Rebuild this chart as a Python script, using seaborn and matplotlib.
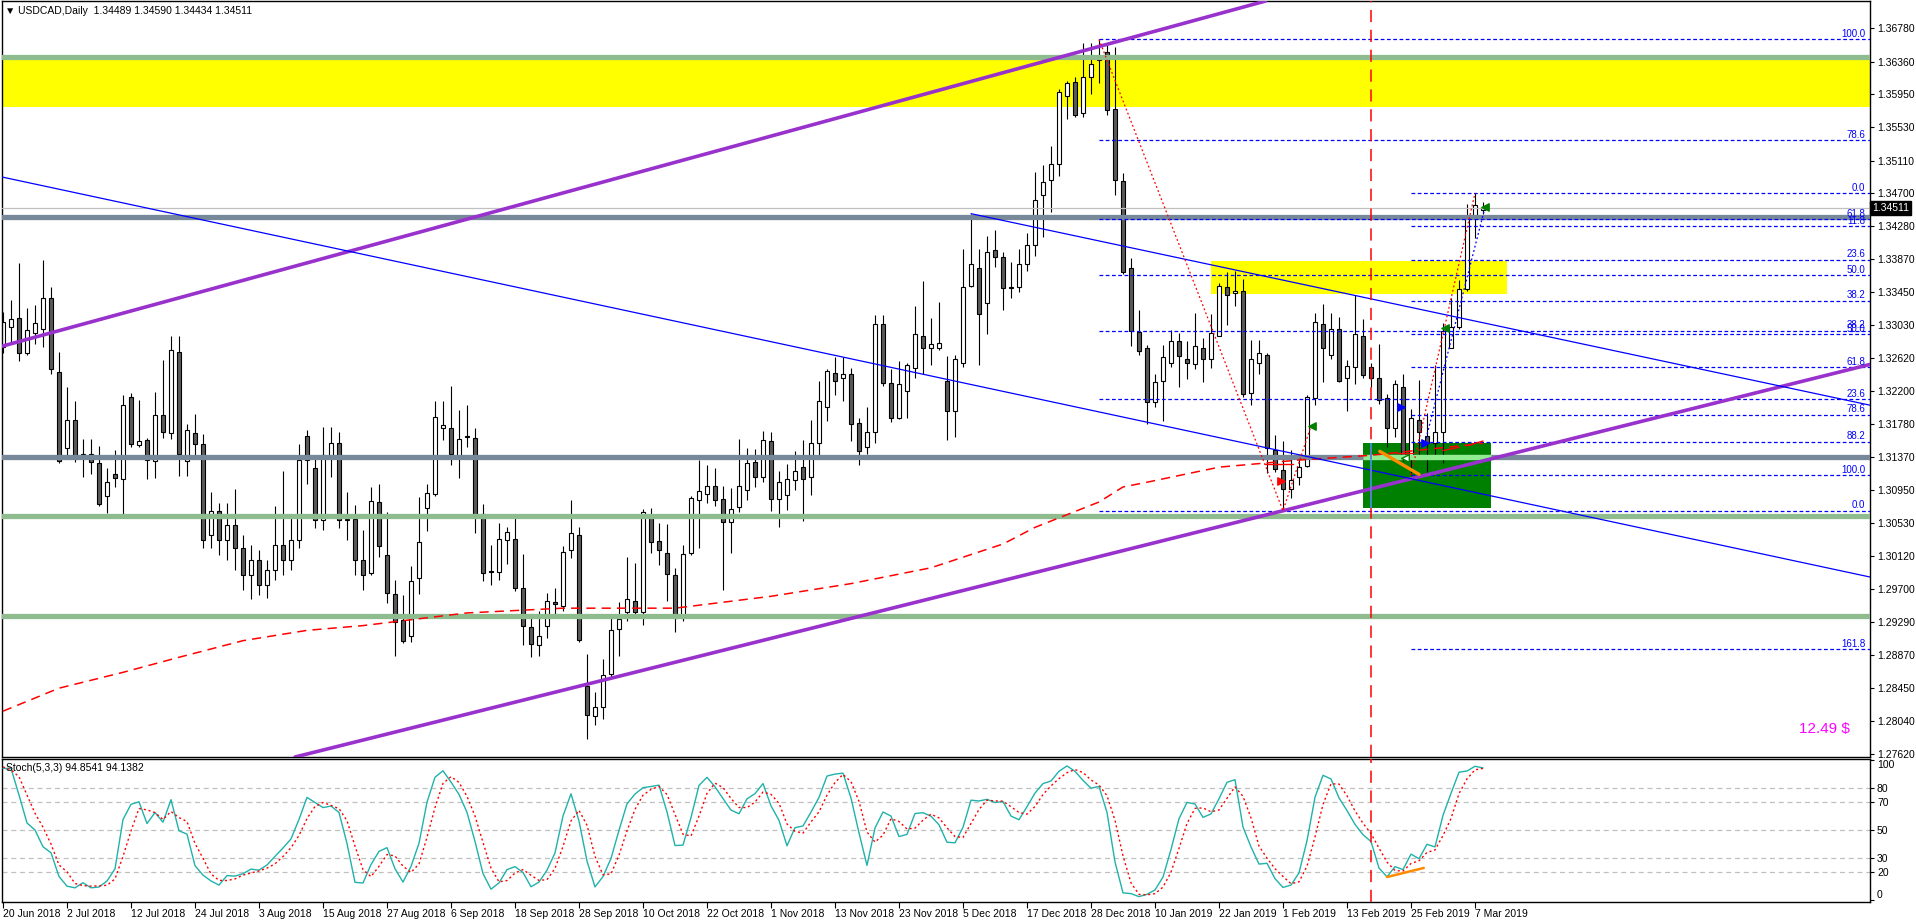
import numpy as np
import pandas as pd
import seaborn as sns
import matplotlib.pyplot as plt
import matplotlib.transforms as mtransforms
from matplotlib.patches import Rectangle

# ------------------- Daily USDCAD candles, 20 Jun 2018 .. 8 Mar 2019 -------------------
opens = [1.3276, 1.3301, 1.3312, 1.3268, 1.3293, 1.3299, 1.3338, 1.3244, 1.3148, 1.3184,
         1.3138, 1.3140, 1.3129, 1.3087, 1.3116, 1.3109, 1.3212, 1.3152, 1.3158, 1.3132,
         1.3190, 1.3167, 1.3269, 1.3132, 1.3167, 1.3153, 1.3038, 1.3069, 1.3032, 1.3051,
         1.3022, 1.2988, 1.3007, 1.2975, 1.2994, 1.3026, 1.3007, 1.3032, 1.3163, 1.3123,
         1.3057, 1.3138, 1.3154, 1.3057, 1.3059, 1.3007, 1.2991, 1.3080, 1.3013, 1.2964,
         1.2931, 1.2911, 1.2984, 1.3072, 1.3090, 1.3173, 1.3174, 1.3138, 1.3163, 1.3161,
         1.3065, 1.2993, 1.2992, 1.3032, 1.3033, 1.2971, 1.2922, 1.2899, 1.2924, 1.2954,
         1.2949, 1.3019, 1.3039, 1.2848, 1.2810, 1.2821, 1.2863, 1.2920, 1.2941, 1.2955,
         1.2941, 1.3064, 1.3031, 1.3016, 1.2988, 1.2933, 1.3016, 1.3083, 1.3090, 1.3100,
         1.3084, 1.3055, 1.3074, 1.3095, 1.3130, 1.3112, 1.3157, 1.3084, 1.3089, 1.3108,
         1.3124, 1.3111, 1.3154, 1.3200, 1.3243, 1.3236, 1.3241, 1.3180, 1.3150, 1.3169,
         1.3305, 1.3230, 1.3186, 1.3220, 1.3249, 1.3290, 1.3275, 1.3275, 1.3233, 1.3195,
         1.3256, 1.3353, 1.3376, 1.3331, 1.3398, 1.3389, 1.3351, 1.3351, 1.3380, 1.3404,
         1.3467, 1.3486, 1.3507, 1.3592, 1.3610, 1.3571, 1.3616, 1.3638, 1.3648, 1.3576,
         1.3485, 1.3376, 1.3295, 1.3275, 1.3206, 1.3233, 1.3256, 1.3283, 1.3260, 1.3254,
         1.3275, 1.3260, 1.3290, 1.3352, 1.3344, 1.3346, 1.3217, 1.3256, 1.3266, 1.3146,
         1.3121, 1.3097, 1.3111, 1.3126, 1.3211, 1.3305, 1.3266, 1.3299, 1.3236, 1.3250,
         1.3290, 1.3250, 1.3236, 1.3211, 1.3174, 1.3225, 1.3134, 1.3184, 1.3163, 1.3155,
         1.3168, 1.3275, 1.3301, 1.3349, 1.3441, 1.34489]
highs = [1.3320, 1.3335, 1.3382, 1.3325, 1.3329, 1.3386, 1.3351, 1.3269, 1.3225, 1.3208,
         1.3160, 1.3160, 1.3151, 1.3123, 1.3146, 1.3215, 1.3218, 1.3209, 1.3161, 1.3219,
         1.3259, 1.3290, 1.3290, 1.3178, 1.3191, 1.3166, 1.3093, 1.3079, 1.3079, 1.3097,
         1.3038, 1.3026, 1.3019, 1.3007, 1.3075, 1.3119, 1.3064, 1.3153, 1.3171, 1.3136,
         1.3175, 1.3175, 1.3168, 1.3093, 1.3076, 1.3045, 1.3099, 1.3103, 1.3067, 1.2982,
         1.2963, 1.2999, 1.3086, 1.3103, 1.3208, 1.3207, 1.3227, 1.3196, 1.3203, 1.3174,
         1.3078, 1.3026, 1.3054, 1.3048, 1.3064, 1.3015, 1.2936, 1.2942, 1.2965, 1.2972,
         1.3025, 1.3082, 1.3048, 1.2888, 1.2840, 1.2882, 1.2936, 1.2954, 1.3010, 1.3003,
         1.3071, 1.3072, 1.3053, 1.3052, 1.2997, 1.3026, 1.3088, 1.3133, 1.3127, 1.3123,
         1.3100, 1.3098, 1.3159, 1.3148, 1.3147, 1.3170, 1.3169, 1.3119, 1.3128, 1.3145,
         1.3158, 1.3184, 1.3233, 1.3248, 1.3263, 1.3263, 1.3249, 1.3186, 1.3200, 1.3316,
         1.3316, 1.3248, 1.3258, 1.3255, 1.3327, 1.3359, 1.3312, 1.3332, 1.3264, 1.3265,
         1.3399, 1.3444, 1.3400, 1.3416, 1.3423, 1.3396, 1.3383, 1.3400, 1.3420, 1.3496,
         1.3506, 1.3529, 1.3601, 1.3611, 1.3617, 1.3660, 1.3660, 1.3664, 1.3659, 1.3654,
         1.3495, 1.3388, 1.3322, 1.3278, 1.3242, 1.3278, 1.3297, 1.3293, 1.3283, 1.3318,
         1.3287, 1.3317, 1.3356, 1.3370, 1.3372, 1.3361, 1.3285, 1.3284, 1.3268, 1.3164,
         1.3157, 1.3146, 1.3139, 1.3215, 1.3318, 1.3330, 1.3318, 1.3313, 1.3259, 1.3341,
         1.3311, 1.3256, 1.3280, 1.3216, 1.3234, 1.3241, 1.3197, 1.3234, 1.3192, 1.3253,
         1.3306, 1.3337, 1.3360, 1.3456, 1.3470, 1.34590]
lows = [1.3268, 1.3282, 1.3258, 1.3265, 1.3280, 1.3276, 1.3241, 1.3129, 1.3139, 1.3131,
        1.3111, 1.3115, 1.3075, 1.3066, 1.3099, 1.3063, 1.3149, 1.3149, 1.3109, 1.3110,
        1.3161, 1.3159, 1.3113, 1.3113, 1.3135, 1.3022, 1.3022, 1.3013, 1.3007, 1.2994,
        1.2969, 1.2957, 1.2963, 1.2959, 1.2982, 1.2988, 1.2994, 1.3022, 1.3103, 1.3047,
        1.3045, 1.3112, 1.3047, 1.3032, 1.2988, 1.2969, 1.2988, 1.3010, 1.2952, 1.2886,
        1.2902, 1.2903, 1.2964, 1.3043, 1.3088, 1.3158, 1.3127, 1.3110, 1.3150, 1.3041,
        1.2980, 1.2975, 1.2981, 1.3002, 1.2968, 1.2900, 1.2884, 1.2886, 1.2908, 1.2935,
        1.2943, 1.3009, 1.2903, 1.2781, 1.2799, 1.2806, 1.2859, 1.2886, 1.2930, 1.2935,
        1.2925, 1.3016, 1.3001, 1.2955, 1.2916, 1.2930, 1.3013, 1.3022, 1.3079, 1.3075,
        1.2969, 1.3016, 1.3068, 1.3083, 1.3099, 1.3105, 1.3069, 1.3048, 1.3070, 1.3095,
        1.3056, 1.3089, 1.3139, 1.3182, 1.3215, 1.3208, 1.3157, 1.3127, 1.3140, 1.3154,
        1.3227, 1.3181, 1.3185, 1.3186, 1.3236, 1.3242, 1.3253, 1.3272, 1.3158, 1.3162,
        1.3251, 1.3352, 1.3253, 1.3292, 1.3377, 1.3322, 1.3337, 1.3345, 1.3371, 1.3390,
        1.3414, 1.3446, 1.3492, 1.3564, 1.3566, 1.3566, 1.3595, 1.3609, 1.3568, 1.3468,
        1.3368, 1.3277, 1.3266, 1.3179, 1.3200, 1.3182, 1.3251, 1.3225, 1.3235, 1.3248,
        1.3231, 1.3249, 1.3289, 1.3304, 1.3328, 1.3213, 1.3202, 1.3241, 1.3117, 1.3118,
        1.3069, 1.3085, 1.3101, 1.3124, 1.3202, 1.3231, 1.3261, 1.3231, 1.3195, 1.3229,
        1.3236, 1.3225, 1.3204, 1.3149, 1.3162, 1.3132, 1.3114, 1.3134, 1.3118, 1.3138,
        1.3129, 1.3274, 1.3299, 1.3347, 1.3413, 1.34434]
closes = [1.3307, 1.3311, 1.3268, 1.3297, 1.3306, 1.3337, 1.3248, 1.3132, 1.3184, 1.3138,
          1.3140, 1.3130, 1.3078, 1.3105, 1.3110, 1.3203, 1.3153, 1.3157, 1.3133, 1.3190,
          1.3168, 1.3272, 1.3140, 1.3171, 1.3153, 1.3032, 1.3069, 1.3032, 1.3051, 1.3022,
          1.2988, 1.3007, 1.2975, 1.2994, 1.3026, 1.3007, 1.3032, 1.3133, 1.3133, 1.3057,
          1.3139, 1.3155, 1.3057, 1.3059, 1.3007, 1.2988, 1.3081, 1.3025, 1.2965, 1.2929,
          1.2905, 1.2980, 1.3030, 1.3091, 1.3187, 1.3177, 1.3141, 1.3159, 1.3162, 1.3064,
          1.2991, 1.2992, 1.3033, 1.3042, 1.2971, 1.2923, 1.2901, 1.2911, 1.2955, 1.2951,
          1.3017, 1.3041, 1.2906, 1.2811, 1.2821, 1.2862, 1.2918, 1.2932, 1.2958, 1.2941,
          1.3068, 1.3030, 1.3019, 1.2989, 1.2933, 1.3015, 1.3085, 1.3094, 1.3100, 1.3083,
          1.3055, 1.3071, 1.3100, 1.3129, 1.3111, 1.3158, 1.3084, 1.3105, 1.3109, 1.3119,
          1.3109, 1.3154, 1.3207, 1.3246, 1.3233, 1.3241, 1.3178, 1.3144, 1.3169, 1.3305,
          1.3230, 1.3186, 1.3229, 1.3253, 1.3292, 1.3274, 1.3279, 1.3281, 1.3195, 1.3261,
          1.3352, 1.3380, 1.3317, 1.3395, 1.3389, 1.3350, 1.3350, 1.3380, 1.3405, 1.3461,
          1.3484, 1.3507, 1.3598, 1.3609, 1.3569, 1.3617, 1.3633, 1.3643, 1.3575, 1.3487,
          1.3370, 1.3296, 1.3271, 1.3206, 1.3232, 1.3263, 1.3283, 1.3264, 1.3255, 1.3277,
          1.3260, 1.3293, 1.3353, 1.3341, 1.3347, 1.3216, 1.3261, 1.3268, 1.3148, 1.3122,
          1.3097, 1.3108, 1.3124, 1.3212, 1.3307, 1.3274, 1.3299, 1.3233, 1.3252, 1.3292,
          1.3240, 1.3236, 1.3209, 1.3174, 1.3229, 1.3136, 1.3186, 1.3168, 1.3155, 1.3168,
          1.3296, 1.3301, 1.3349, 1.3441, 1.3455, 1.34511]

date_labels = ['20 Jun 2018', '2 Jul 2018', '12 Jul 2018', '24 Jul 2018', '3 Aug 2018',
               '15 Aug 2018', '27 Aug 2018', '6 Sep 2018', '18 Sep 2018', '28 Sep 2018',
               '10 Oct 2018', '22 Oct 2018', '1 Nov 2018', '13 Nov 2018', '23 Nov 2018',
               '5 Dec 2018', '17 Dec 2018', '28 Dec 2018', '10 Jan 2019', '22 Jan 2019',
               '1 Feb 2019', '13 Feb 2019', '25 Feb 2019', '7 Mar 2019']
price_ticks = [1.36780, 1.36360, 1.35950, 1.35530, 1.35110, 1.34700, 1.34280, 1.33870,
               1.33450, 1.33030, 1.32620, 1.32200, 1.31780, 1.31370, 1.30950, 1.30530,
               1.30120, 1.29700, 1.29290, 1.28870, 1.28450, 1.28040, 1.27620]
stoch_ticks = [100, 80, 70, 50, 30, 20, 0]
stoch_levels = [80, 70, 50, 30, 20]

# moving average (bar index, value)
ma_idx = [0, 7, 15, 22, 30, 38, 45, 58, 70, 84, 92, 96, 106, 116, 125, 129, 137, 140,
          143, 152, 162, 171, 185]
ma_val = [1.2816, 1.2845, 1.2865, 1.2884, 1.2905, 1.2918, 1.2924, 1.2940, 1.2946, 1.2946,
          1.2956, 1.2961, 1.2977, 1.2997, 1.3027, 1.3048, 1.3080, 1.3099, 1.3105, 1.3124,
          1.3133, 1.3139, 1.3154]

# stochastic values for the first bars (before the 5,3,3 window fills)
stoch_k_head = [94, 94, 75, 55, 50, 38]
stoch_d_head = [95, 93, 88, 75, 62, 52, 40, 25]

# ------------------- Drawn objects -------------------
green_levels = [1.36414, 1.30620, 1.29361]
gray_levels = [1.34398, 1.31365]
current_price = 1.34511
yellow_zones = [(-1, 240, 1.35786, 1.36380), (151, 188, 1.33426, 1.33842)]
green_zone = (170, 186, 1.30725, 1.31545)
purple_up = [(0, 1.3277), (137, 1.3655)]
purple_low = [(73, 1.2850), (160, 1.3069)]
blue_long = [(0, 1.3490), (160, 1.3144)]
blue_ray = [(121, 1.3444), (187, 1.3302)]
red_zigzag = [(137, 1.3664), (160, 1.3069), (163.5, 1.3176)]
red_swing = [(176, 1.3114), (184, 1.3470)]
blue_swing = [(177.75, 1.3155), (185.25, 1.3452)]
orange_main = [(172.1, 1.3144), (177, 1.3115)]
orange_stoch = [(173, 16.4), (177.6, 22.9)]
red_marks = [((157.75, 1.3128), (161.25, 1.3128)), ((174.2, 1.3142), (176.25, 1.3142)),
             ((180, 1.3145), (182, 1.3149)), ((183, 1.3151), (185, 1.3157))]
green_arrows = [(163.6, 1.3176), (180.25, 1.3300), (185.3, 1.3453)]
blue_arrows = [(174.75, 1.3200), (177.75, 1.3155)]
event_bar = 171
fib1_levels = [0.0, 23.6, 38.2, 50.0, 61.8, 78.6, 100.0]
fib2_levels = [0.0, 11.8, 23.6, 38.2, 50.0, 61.8, 78.6, 88.2, 100.0, 161.8]

# ------------------- Setup -------------------
sns.set_theme(style='white', rc={'axes.edgecolor': 'black', 'xtick.color': 'black',
                                 'ytick.color': 'black', 'text.color': 'black'})
plt.rcParams['font.family'] = ['Liberation Sans Narrow', 'Liberation Sans', 'DejaVu Sans']

o = np.array(opens); h = np.array(highs); l = np.array(lows); c = np.array(closes)
idx = np.arange(len(c))
df = pd.DataFrame({'idx': idx, 'open': o, 'high': h, 'low': l, 'close': c})

# Stochastic (5,3,3)
ll = df['low'].rolling(5).min()
hh = df['high'].rolling(5).max()
k = 100 * (df['close'] - ll).rolling(3).sum() / (hh - ll).rolling(3).sum()
d = k.rolling(3).mean()
k.iloc[:len(stoch_k_head)] = stoch_k_head
d.iloc[:len(stoch_d_head)] = stoch_d_head
df['K'] = k
df['D'] = d

W, H = 1916, 922
fig = plt.figure(figsize=(W / 100, H / 100), dpi=100)
ax = fig.add_axes([2 / W, 1 - 757 / H, 1868 / W, 756 / H])
ax2 = fig.add_axes([2 / W, 1 - 902 / H, 1868 / W, 143 / H], sharex=ax)
x_end = 233.375

# ------------------- Main panel -------------------
for x0, x1, y0, y1 in yellow_zones:
    ax.add_patch(Rectangle((x0, y0), x1 - x0, y1 - y0, color='yellow', lw=0, zorder=1))
gx0, gx1, gy0, gy1 = green_zone
ax.add_patch(Rectangle((gx0, gy0), gx1 - gx0, gy1 - gy0, color='green', lw=0, zorder=1))

bull = c >= o
ax.vlines(idx, l, h, color='black', lw=0.8, zorder=2)
ax.bar(idx, np.maximum(np.abs(c - o), 0.00005), bottom=np.minimum(o, c), width=0.55,
       color=np.where(bull, 'white', '#5a5a5a'), edgecolor='black', linewidth=0.8, zorder=2.5)

ax.axhline(current_price, color='#c0c0c0', lw=0.9, zorder=2.6)
for lv in green_levels:
    ax.axhline(lv, color='#8fbc8f', lw=3.8, zorder=3)
for lv in gray_levels:
    ax.axhline(lv, color='#778899', lw=3.8, zorder=3)
ax.hlines(gray_levels[1], gx0, gx1, color='#90ee90', lw=3.8, zorder=3.1)

ax.axline(*purple_up, color='#9932cc', lw=2.6, zorder=4)
ax.axline(*purple_low, color='#9932cc', lw=2.6, zorder=4)
ax.axline(*blue_long, color='blue', lw=0.9, zorder=4)
(bx0, by0), (bx1, by1) = blue_ray
ax.plot([bx0, x_end], [by0, by0 + (by1 - by0) / (bx1 - bx0) * (x_end - bx0)],
        color='blue', lw=0.9, zorder=4)

sns.lineplot(x=ma_idx, y=ma_val, ax=ax, color='red', lw=1.1, linestyle=(0, (6, 4)), zorder=3.5)

# fibonacci retracements
f1_hi, f1_lo = h[137], l[160]
for lv in fib1_levels:
    p = f1_lo + (f1_hi - f1_lo) * lv / 100
    ax.hlines(p, 137, x_end, color='blue', lw=0.9, linestyles=(0, (3, 2)), zorder=3.4)
    ax.text(232.8, p + 0.00005, f'{lv:.1f}', color='blue', fontsize=7, ha='right', va='bottom', zorder=6)
f2_hi, f2_lo = h[184], l[176]
for lv in fib2_levels:
    p = f2_hi - (f2_hi - f2_lo) * lv / 100
    ax.hlines(p, 176, x_end, color='blue', lw=0.9, linestyles=(0, (3, 2)), zorder=3.4)
    ax.text(232.8, p + 0.00005, f'{lv:.1f}', color='blue', fontsize=7, ha='right', va='bottom', zorder=6)

zx, zy = zip(*red_zigzag)
ax.plot(zx, zy, color='red', lw=0.9, ls=(0, (1.5, 2)), zorder=4.5)
sx, sy = zip(*red_swing)
ax.plot(sx, sy, color='red', lw=0.9, ls=(0, (1.5, 2)), zorder=4.5)
bx, by = zip(*blue_swing)
ax.plot(bx, by, color='blue', lw=0.9, ls=(0, (1.5, 2)), zorder=4.5)
ox, oy = zip(*orange_main)
ax.plot(ox, oy, color='#ff8c00', lw=2.4, zorder=4.6)
for (ax0, ay0), (ax1, ay1) in red_marks:
    ax.plot([ax0, ax1], [ay0, ay1], color='red', lw=1, zorder=4.6)
gax, gay = zip(*green_arrows)
ax.scatter(gax, gay, marker='<', s=28, color='green', zorder=5)
bax, bay = zip(*blue_arrows)
ax.scatter(bax, bay, marker='>', s=28, color='blue', zorder=5)
ax.scatter([159.75], [1.3107], marker='>', s=28, color='red', zorder=5)
ax.scatter([175.25], [1.3136], marker='<', s=30, facecolor='white', edgecolor='green', lw=1, zorder=5)

ax.axvline(event_bar, color='red', lw=1.1, ls=(0, (8, 5)), zorder=4)
ax.vlines(event_bar, gy0, gy1, color='#3d9bff', lw=1.1, zorder=4.1)

ax.set_xlim(-0.125, x_end)
ax.set_ylim(1.275814, 1.371244)
ax.set_yticks(price_ticks)
ax.set_yticklabels([f'{t:.5f}' for t in price_ticks])
ax.tick_params(axis='y', left=False, right=True, labelleft=False, labelright=True,
               length=3, width=0.8, direction='out', labelsize=7.5, pad=2)
ax.tick_params(axis='x', bottom=False, labelbottom=False)
ax.set_xlabel(''); ax.set_ylabel('')
for s in ax.spines.values():
    s.set_color('black'); s.set_linewidth(1)

blend = mtransforms.blended_transform_factory(ax.transAxes, ax.transData)
ax.text(1.0012, current_price, f'{current_price:.5f}', transform=blend, color='white',
        fontsize=7.5, ha='left', va='center',
        bbox=dict(boxstyle='square,pad=0.18', fc='black', ec='black'), zorder=7)

# ------------------- Stochastic panel -------------------
for lv in stoch_levels:
    ax2.axhline(lv, color='#c0c0c0', lw=0.9, ls=(0, (4, 3)), zorder=1)
sns.lineplot(data=df, x='idx', y='K', ax=ax2, color='#20b2aa', lw=1, zorder=3)
sns.lineplot(data=df, x='idx', y='D', ax=ax2, color='red', lw=1, linestyle=(0, (1.5, 2)), zorder=3)
sox, soy = zip(*orange_stoch)
ax2.plot(sox, soy, color='#ff8c00', lw=1.8, zorder=4)
ax2.axvline(event_bar, color='red', lw=1.1, ls=(0, (8, 5)), zorder=4)

ax2.set_ylim(-1.43, 100.7)
ax2.set_yticks(stoch_ticks)
ax2.set_yticklabels([str(t) for t in stoch_ticks])
ax2.tick_params(axis='y', left=False, right=True, labelleft=False, labelright=True,
                length=3, width=0.8, direction='out', labelsize=7.5, pad=2)
# top and bottom labels sit inside the panel, as in the terminal
for lab, t in zip(ax2.get_yticklabels(), stoch_ticks):
    if t == 100:
        lab.set_va('top')
    elif t == 0:
        lab.set_va('bottom')
ax2.set_xticks(idx[::8])
ax2.set_xticklabels(date_labels, ha='left')
ax2.tick_params(axis='x', bottom=True, length=4, width=0.8, direction='out', labelsize=7.5, pad=1)
ax2.set_xlim(-0.125, x_end)
ax2.set_xlabel(''); ax2.set_ylabel('')
for s in ax2.spines.values():
    s.set_color('black'); s.set_linewidth(1)

# ------------------- Texts -------------------
fig.text(5 / W, 1 - 11 / H, '\u25bc USDCAD,Daily  1.34489 1.34590 1.34434 1.34511',
         fontsize=7.5, va='center', ha='left')
fig.text(6 / W, 1 - 768 / H, 'Stoch(5,3,3) 94.8541 94.1382', fontsize=7.5, va='center', ha='left')
fig.text(1850 / W, 1 - 729 / H, '12.49 $', fontsize=11, color='magenta', va='center', ha='right',
         family=['Liberation Sans', 'DejaVu Sans'])

fig.savefig('out.png', dpi=100)
